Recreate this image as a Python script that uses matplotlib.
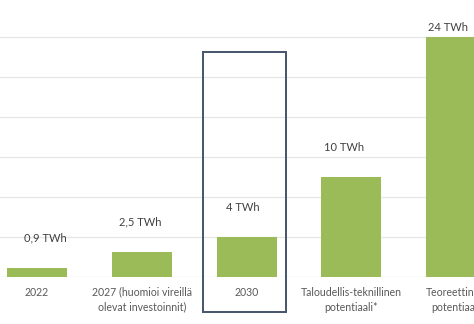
import matplotlib.pyplot as plt
from matplotlib.patches import Rectangle

categories = ['2022', '2027 (huomioi vireillä\nolevat investoinnit)', '2030',
              'Taloudellis-teknillinen\npotentiaali*', 'Teoreettinen\npotentiaali']
values = [0.9, 2.5, 4, 10, 24]
value_labels = ['0,9 TWh', '2,5 TWh', '4 TWh', '10 TWh', '24 TWh']

plt.rcParams['font.family'] = ['Lato', 'DejaVu Sans']

fig = plt.figure(figsize=(4.74, 3.24), dpi=100)
ax = fig.add_axes([0, 0.145, 1, 0.855])

x = list(range(len(categories)))
ax.bar(x, values, width=0.573, color='#9BBB59', zorder=3)

ax.set_xlim(-0.353, 4.17)
ax.set_ylim(0, 27.7)
ax.set_yticks([0, 4, 8, 12, 16, 20, 24])
ax.yaxis.grid(True, color='#E6E6E6', linewidth=1)
ax.set_axisbelow(True)
for s in ax.spines.values():
    s.set_visible(False)
ax.tick_params(left=False, bottom=False, labelleft=False)
ax.set_xticks(x)
ax.set_xticklabels(categories, fontsize=7.6, color='#595959', linespacing=1.45)
ax.tick_params(axis='x', pad=3.5)

# data labels above bars (slightly shifted, as in the original slide)
shift_px = [8, -1.5, -3.5, -7, -8]
for i, (v, lab) in enumerate(zip(values, value_labels)):
    off = 3 if i == len(values) - 1 else 17.5
    ax.annotate(lab, (i, v), xytext=(shift_px[i] * 0.72, off), textcoords='offset points',
                ha='center', va='bottom', fontsize=8, color='#404040')

# highlight box around 2030
ax.add_patch(Rectangle((2 - 0.42, -3.5), 0.8, 26.0, fill=False,
                       edgecolor='#44546A', linewidth=1.4, clip_on=False, zorder=4))

fig.savefig('out.png', dpi=100)
